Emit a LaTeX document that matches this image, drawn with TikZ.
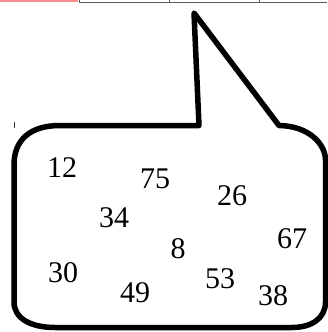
\documentclass[tikz,border=0pt]{standalone}
\usepackage{fontspec}
\setmainfont{Liberation Serif}
\begin{document}
\begin{tikzpicture}[x=1pt,y=-1pt,
  num/.style={anchor=base,inner sep=0pt,font=\fontsize{30}{30}\selectfont},
  bubble/.style={line width=5.5pt,line join=round,draw=black},
  grid/.style={draw=black!65,line width=0.8pt}]
\useasboundingbox (0,0) rectangle (327,332);
% top strip
\fill[red!45] (0,0) rectangle (78,2);
\draw[grid] (79,2.6) -- (327,2.6);
\draw[grid] (79,0) -- (79,3);
\draw[grid] (169,0) -- (169,3);
\draw[grid] (259,0) -- (259,3);
% small tick
\draw[black!80,line width=0.8pt] (14,122) -- (14,128);
% bubble
\draw[bubble] (199,125.5) -- (60,125.5)
  .. controls (30,125.5) and (14,140) .. (14,165)
  -- (14,302)
  .. controls (14,318) and (30,327.5) .. (55,327.5)
  -- (292,327.5)
  .. controls (312,327.5) and (325.5,318) .. (325.5,302)
  -- (325.5,160)
  .. controls (325.5,145) and (310,126) .. (279,125.5)
  -- (194,13) -- cycle;
% numbers
\node[num] (n12) at (62,177) {12};
\node[num] (n75) at (155,188) {75};
\node[num] (n26) at (232,205) {26};
\node[num] (n34) at (114,227) {34};
\node[num] (n67) at (292,248) {67};
\node[num] (n8)  at (178,258) {8};
\node[num] (n30) at (63,282) {30};
\node[num] (n49) at (135,302) {49};
\node[num] (n53) at (220,288) {53};
\node[num] (n38) at (273,305) {38};
\end{tikzpicture}
\end{document}
